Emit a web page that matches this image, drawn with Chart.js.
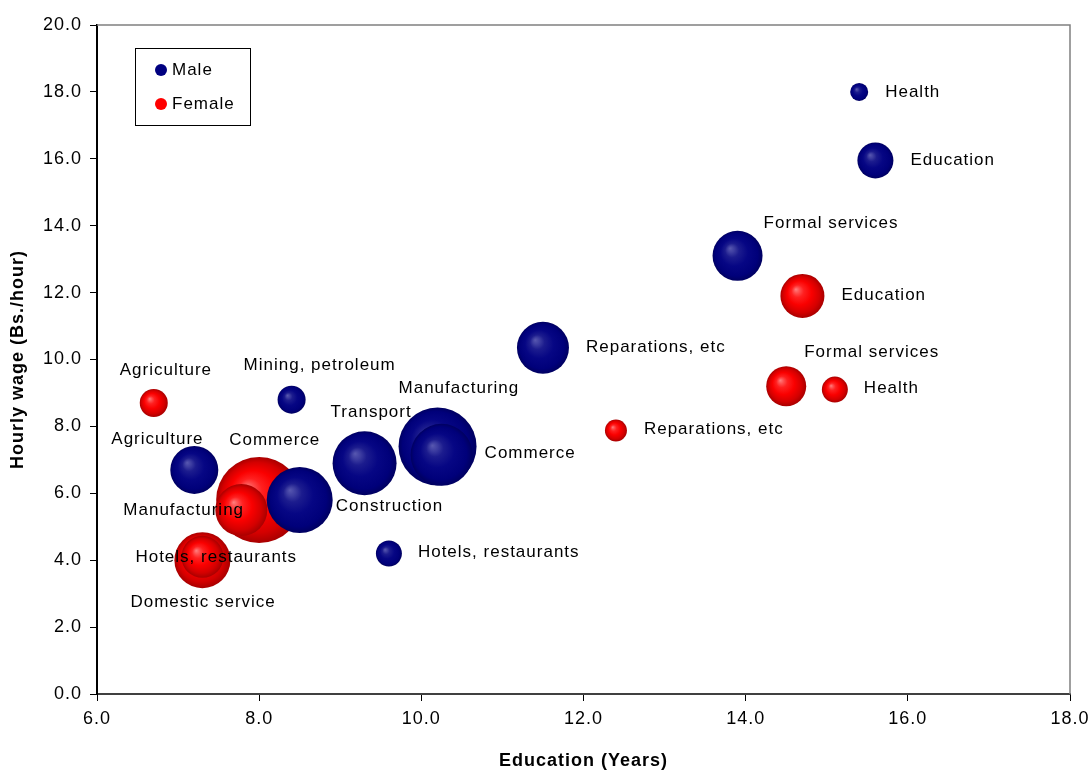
<!DOCTYPE html>
<html>
<head>
<meta charset="utf-8">
<script src="https://cdn.jsdelivr.net/npm/chart.js@4/dist/chart.umd.min.js"></script>
<style>
  html, body { margin: 0; padding: 0; background: #fff; }
  #wrap { width: 1090px; height: 772px; position: relative; }
</style>
</head>
<body>
<div id="wrap"><canvas id="myChart"></canvas></div>
<script>
// --- data ---
const maleSectors = ['Agriculture', 'Mining, petroleum', 'Manufacturing', 'Construction', 'Commerce', 'Transport',
    'Hotels, restaurants', 'Reparations, etc', 'Formal services', 'Education', 'Health'];
const maleEducation = [7.2, 8.4, 10.2, 8.5, 10.25, 9.3, 9.6, 11.5, 13.9, 15.6, 15.4];
const maleWage = [6.7, 8.8, 7.4, 5.8, 7.15, 6.9, 4.2, 10.35, 13.1, 15.95, 18.0];
const maleSize = [24, 14, 39, 33, 31, 32, 13, 26, 25, 18, 9];

const femaleSectors = ['Agriculture', 'Manufacturing', 'Commerce', 'Hotels, restaurants', 'Domestic service',
    'Reparations, etc', 'Formal services', 'Education', 'Health'];
const femaleEducation = [6.7, 7.78, 8.0, 7.3, 7.3, 12.4, 14.5, 14.7, 15.1];
const femaleWage = [8.7, 5.5, 5.8, 4.1, 4.0, 7.88, 9.2, 11.9, 9.1];
const femaleSize = [14, 26, 43, 21, 28, 11, 20, 22, 13];

const xTicks = [6, 8, 10, 12, 14, 16, 18];
const yTicks = [0, 2, 4, 6, 8, 10, 12, 14, 16, 18, 20];

// label placement (pixels, relative to bubble centre, text left-aligned)
const maleLabelOffsets = [[-83, -31], [-48, -34], [-39, -58], [36, 6], [43, -2], [-34, -51], [29, -1], [43, 0], [26, -32], [35, 0], [26, 0]];
const femaleLabelOffsets = [[-34, -33], [-118, 0], [-30, -60], [-67, 0], [-72, 42], [28, -1], [18, -34], [39, -1], [29, -1]];

const FONT = "'Liberation Sans', Arial, sans-serif";

function buildPoints(names, xs, ys, sizes, offsets) {
    const pts = names.map((n, i) => ({ x: xs[i], y: ys[i], r: sizes[i], label: n, off: offsets[i] }));
    // big bubbles behind small ones
    return pts.sort((a, b) => b.r - a.r);
}

const shades = {
    male: [[0, '#5858b0'], [0.14, '#3c3ca0'], [0.28, '#1c1c8e'], [0.55, '#060684'], [0.85, '#00007a'], [1, '#000060']],
    female: [[0, '#ff8080'], [0.14, '#ff4c4c'], [0.28, '#ff2020'], [0.55, '#fa0000'], [0.82, '#d40000'], [1, '#a80000']]
};

function sphere(kind, flat) {
    return function (c) {
        if (c.type !== 'data' || !c.chart.chartArea) return flat;
        const chart = c.chart;
        const cx = chart.scales.x.getPixelForValue(c.raw.x);
        const cy = chart.scales.y.getPixelForValue(c.raw.y);
        const r = c.raw.r;
        const g = chart.ctx.createRadialGradient(cx - r * 0.3, cy - r * 0.3, 0, cx, cy, r);
        shades[kind].forEach(s => g.addColorStop(s[0], s[1]));
        return g;
    };
}

const frameAndLabels = {
    id: 'frameAndLabels',
    beforeDraw(chart) {
        chart.ctx.letterSpacing = '1px';
    },
    beforeDatasetsDraw(chart) {
        const { ctx, chartArea: a } = chart;
        ctx.save();
        ctx.strokeStyle = '#808080';
        ctx.lineWidth = 1.5;
        ctx.beginPath();
        ctx.moveTo(a.left, a.top);
        ctx.lineTo(a.right, a.top);
        ctx.lineTo(a.right, a.bottom);
        ctx.stroke();
        ctx.restore();
    },
    afterDatasetsDraw(chart) {
        const { ctx, chartArea: a } = chart;
        ctx.save();
        ctx.letterSpacing = '1px';
        ctx.font = '17px ' + FONT;
        ctx.fillStyle = '#000';
        ctx.textAlign = 'left';
        ctx.textBaseline = 'middle';
        chart.data.datasets.forEach(ds => {
            ds.data.forEach(p => {
                const px = chart.scales.x.getPixelForValue(p.x);
                const py = chart.scales.y.getPixelForValue(p.y);
                ctx.fillText(p.label, px + p.off[0], py + p.off[1]);
            });
        });

        // legend box
        const bx = a.left + 38, by = a.top + 23, bw = 115, bh = 77;
        ctx.fillStyle = '#fff';
        ctx.fillRect(bx, by, bw, bh);
        ctx.strokeStyle = '#000';
        ctx.lineWidth = 1;
        ctx.strokeRect(bx + 0.5, by + 0.5, bw, bh);
        chart.data.datasets.forEach((ds, i) => {
            const y = by + 22 + i * 34;
            ctx.beginPath();
            ctx.arc(bx + 26, y, 6, 0, Math.PI * 2);
            ctx.fillStyle = ds.legendColor;
            ctx.fill();
            ctx.fillStyle = '#000';
            ctx.fillText(ds.label, bx + 37, y);
        });
        ctx.restore();
    }
};

const ctx = document.getElementById('myChart');
const myChart = new Chart(ctx, {
    type: 'bubble',
    data: {
        datasets: [
            {
                label: 'Male',
                data: buildPoints(maleSectors, maleEducation, maleWage, maleSize, maleLabelOffsets),
                backgroundColor: sphere('male', '#000080'),
                legendColor: '#000080',
                borderWidth: 0
            },
            {
                label: 'Female',
                data: buildPoints(femaleSectors, femaleEducation, femaleWage, femaleSize, femaleLabelOffsets),
                backgroundColor: sphere('female', '#ff0000'),
                legendColor: '#ff0000',
                borderWidth: 0
            }
        ]
    },
    options: {
        responsive: true,
        maintainAspectRatio: false,
        animation: false,
        events: [],
        layout: { autoPadding: false, padding: { top: 25, right: 20, left: 0, bottom: 0 } },
        plugins: {
            legend: { display: false },
            tooltip: { enabled: false }
        },
        scales: {
            x: {
                type: 'linear',
                min: 6,
                max: 18,
                afterBuildTicks: s => { s.ticks = xTicks.map(v => ({ value: v })); },
                afterFit: s => { s.height = 78; s.paddingLeft = 0; s.paddingRight = 0; },
                ticks: {
                    color: '#000',
                    font: { family: FONT, size: 18 },
                    padding: 7,
                    callback: v => v.toFixed(1)
                },
                grid: { drawOnChartArea: false, color: '#000', tickLength: 7, lineWidth: 1 },
                border: { color: '#404040', width: 2 },
                title: {
                    display: true,
                    text: 'Education (Years)',
                    color: '#000',
                    font: { family: FONT, size: 18, weight: 'bold' },
                    padding: { top: 10, bottom: 0 }
                }
            },
            y: {
                type: 'linear',
                min: 0,
                max: 20,
                afterBuildTicks: s => { s.ticks = yTicks.map(v => ({ value: v })); },
                afterFit: s => { s.width = 97; s.paddingTop = 0; s.paddingBottom = 0; },
                ticks: {
                    color: '#000',
                    font: { family: FONT, size: 18 },
                    padding: 8,
                    callback: v => v.toFixed(1)
                },
                grid: { drawOnChartArea: false, color: '#000', tickLength: 7, lineWidth: 1 },
                border: { color: '#000', width: 2 },
                title: {
                    display: true,
                    text: 'Hourly wage (Bs./hour)',
                    color: '#000',
                    font: { family: FONT, size: 18, weight: 'bold' },
                    padding: { top: 7, bottom: 0 }
                }
            }
        }
    },
    plugins: [frameAndLabels]
});
</script>
</body>
</html>
